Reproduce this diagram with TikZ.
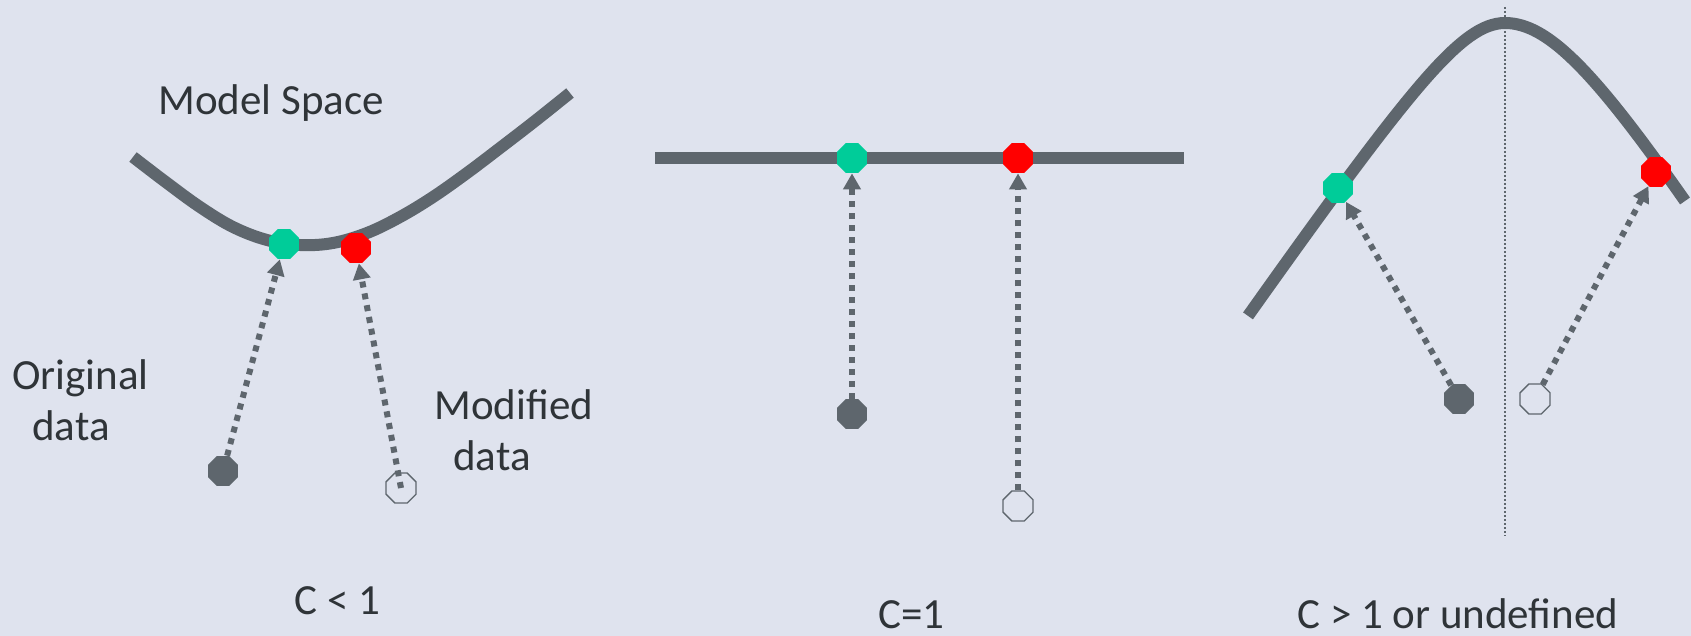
\documentclass[tikz,border=0pt]{standalone}
\usepackage{fontspec}
\setmainfont{Carlito}
\usetikzlibrary{arrows.meta,shapes.geometric}
\definecolor{bg}{HTML}{DFE3EE}
\definecolor{ink}{HTML}{5E666D}
\definecolor{txt}{HTML}{2F3438}
\definecolor{fitgreen}{HTML}{00CC99}
\definecolor{fitred}{HTML}{FF0000}
\begin{document}
\begin{tikzpicture}[x=0.5pt,y=-0.5pt,
  curve/.style={draw=ink,line width=6pt},
  dot/.style={regular polygon,regular polygon sides=8,minimum size=16.2pt,inner sep=0pt},
  orig/.style={dot,fill=ink},
  modif/.style={dot,draw=ink,line width=0.65pt},
  fitg/.style={dot,fill=fitgreen},
  fitr/.style={dot,fill=fitred},
  proj/.style={draw=ink,line width=3pt,dash pattern=on 3pt off 3pt,
    -{Triangle[width=8.5pt,length=8pt]}},
  lbl/.style={text=txt,font=\fontsize{21.5}{25.35}\selectfont,inner sep=0pt,anchor=base west},
]
% canvas
\fill[bg] (0,0) rectangle (1691,636);

% ---- C < 1 : curved model space ----
\draw[curve] plot[smooth,tension=0.6] coordinates {(133,157) (167,183) (200,207)
  (233,227) (267,240) (300,245) (333,243) (367,233) (400,217) (433,197)
  (467,173) (500,148) (535,121) (570,93)};
\node[fitg] (g1) at (284,244) {};
\node[fitr] (r1) at (356,248) {};
\node[orig] (o1) at (223,471) {};
\node[modif] (m1) at (401,488) {};
\draw[proj] (o1) -- (g1);
\draw[proj] (m1.center) -- (r1);
\node[lbl] (ms) at (158,115) {Model Space};
% two-line labels: the base anchor sits on the last line
\node[lbl,align=left] (od) at (12,440) {Original\\\hspace{10pt}data};
\node[lbl,align=left] (md) at (434,470) {Modified\\\hspace{9.5pt}data};
\node[lbl] (c1) at (294,614) {C < 1};

% ---- C = 1 : flat model space ----
\draw[curve] (655,158) -- (1184,158);
\node[fitg] (g2) at (852,158) {};
\node[fitr] (r2) at (1018,158) {};
\node[orig] (o2) at (852,414) {};
\node[modif] (m2) at (1018,506) {};
\draw[proj] (o2) -- (g2);
\draw[proj] (m2) -- (r2);
\node[lbl] (c2) at (878,628) {C=1};

% ---- C > 1 : folded model space ----
\draw[ink,line width=0.65pt,dash pattern=on 1pt off 1pt] (1505,7) -- (1505,536);
\draw[curve]
  plot[domain=-2.57:0,samples=60] ({1505+100*\x},{23+145*(sqrt(\x*\x+0.390625)-0.625)})
  -- plot[domain=0:1.8,samples=45] ({1505+100*\x},{23+160*(sqrt(\x*\x+0.81)-0.9)});
\node[fitg] (g3) at (1338,188) {};
\node[fitr] (r3) at (1656,172) {};
\node[orig] (o3) at (1459,399) {};
\node[modif] (m3) at (1535,399) {};
\draw[proj] (o3) -- (g3);
\draw[proj] (m3) -- (r3);
\node[lbl] (c3) at (1297,628) {C > 1 or undefined};
\end{tikzpicture}
\end{document}
